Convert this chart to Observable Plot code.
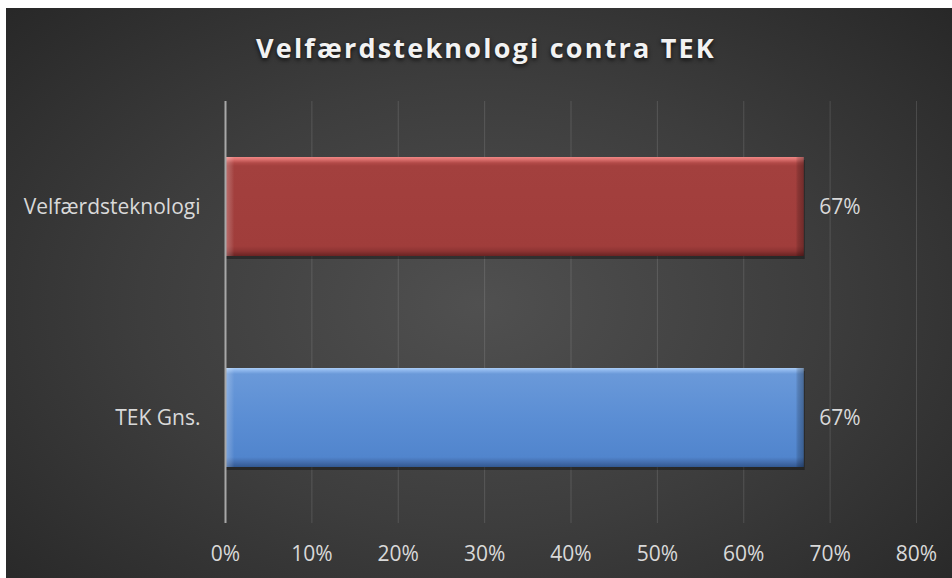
<!DOCTYPE html>
<html><head><meta charset="utf-8">
<script src="https://cdn.jsdelivr.net/npm/d3@7"></script>
<script src="https://cdn.jsdelivr.net/npm/@observablehq/plot@0.6"></script>
<style>
html,body{margin:0;padding:0;background:#fff;width:952px;height:578px;overflow:hidden;}
#chart{position:absolute;left:6px;top:8px;width:946px;height:570px;
 background: radial-gradient(ellipse 72% 78% at 50% 52%, #505050 0%, #3d3d3d 50%, #262626 100%);
 font-family:"Open Sans", sans-serif; overflow:hidden;}
#title{height:92px; text-align:center; color:#f2f2f2; font-weight:bold; font-size:27px; letter-spacing:2.2px; line-height:1; padding-top:26px; padding-left:14px; box-sizing:border-box; text-shadow:0 2px 4px rgba(0,0,0,0.75); white-space:nowrap;}
#plot svg{display:block;}
</style></head><body>
<div id="chart"><div id="title">Velfærdsteknologi contra TEK</div><div id="plot"></div></div>
<script>
const categories = ["Velfærdsteknologi", "TEK Gns."];
const values = [0.67, 0.67];
const xTicks = [0, 0.1, 0.2, 0.3, 0.4, 0.5, 0.6, 0.7, 0.8];

const data = categories.map((c, i) => ({category: c, value: values[i]}));
const pct = d3.format(".0%");
const fills = ["url(#gRed)", "url(#gBlue)"];

function defs() {
  const d = d3.create("svg:defs");
  function grad(id, stops, horiz) {
    const g = d.append("linearGradient").attr("id", id)
      .attr("x1", 0).attr("y1", 0).attr("x2", horiz ? 1 : 0).attr("y2", horiz ? 0 : 1);
    for (const [o, c, a] of stops) g.append("stop").attr("offset", o).attr("stop-color", c).attr("stop-opacity", a == null ? 1 : a);
  }
  grad("gRed", [[0,"#ef8785"],[0.025,"#dc706e"],[0.06,"#b24a48"],[0.09,"#a3403e"],[0.9,"#a03d3b"],[0.95,"#8e3433"],[1,"#6a2323"]]);
  grad("gBlue", [[0,"#abcdf6"],[0.025,"#8db6ec"],[0.06,"#6a99d9"],[0.5,"#5b8ed4"],[0.9,"#5185cd"],[0.95,"#456faf"],[1,"#325891"]]);
  grad("gSide", [[0,"#ffffff",0.28],[0.012,"#ffffff",0.08],[0.016,"#ffffff",0],[0.986,"#000000",0],[0.99,"#000000",0.15],[1,"#000000",0.3]], true);
  return d.node();
}

const plot = Plot.plot({
  width: 946,
  height: 478,
  marginLeft: 219,
  marginRight: 36,
  marginTop: 1,
  marginBottom: 55,
  style: {background: "transparent", fontFamily: "Open Sans, sans-serif", fontSize: "21px", color: "#d9d9d9", overflow: "visible"},
  x: {domain: [0, 0.8], ticks: xTicks, tickFormat: pct, tickSize: 0, tickPadding: 23, label: null},
  y: {domain: categories, paddingInner: 0.53, paddingOuter: 0.265, tickSize: 0, tickPadding: 25, label: null},
  marks: [
    defs,
    Plot.gridX(xTicks.filter(t => t > 0), {stroke: "#ffffff", strokeOpacity: 0.13, strokeWidth: 1}),
    Plot.barX(data, {y: "category", x: "value", fill: "#000", fillOpacity: 0.35, dy: 3, dx: 1}),
    ...data.map((d, i) => Plot.barX([d], {y: "category", x: "value", fill: fills[i]})),
    Plot.barX(data, {y: "category", x: "value", fill: "url(#gSide)"}),
    Plot.ruleX([0], {stroke: "#a8a8a8", strokeWidth: 2}),
    Plot.text(data, {y: "category", x: "value", text: d => pct(d.value), dx: 15, textAnchor: "start", fill: "#d9d9d9", fontSize: 21})
  ]
});
document.getElementById("plot").appendChild(plot);
</script>
</body></html>
